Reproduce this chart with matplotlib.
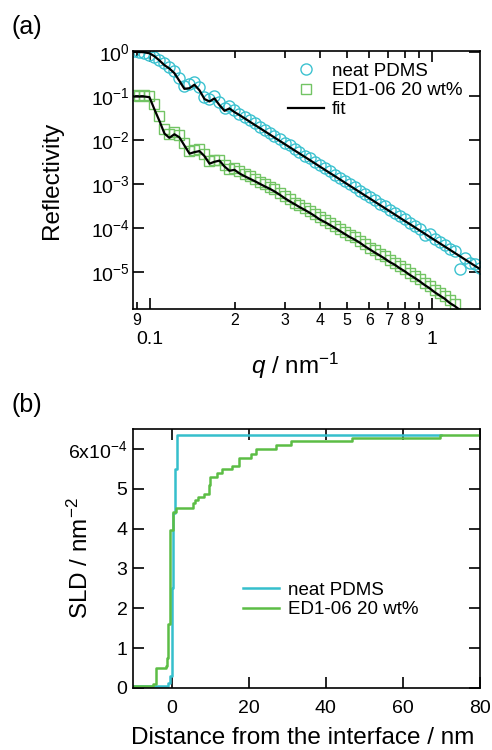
import numpy as np
import matplotlib
matplotlib.use("Agg")
import matplotlib.pyplot as plt
from matplotlib.ticker import FixedLocator, FuncFormatter, LogLocator, NullLocator

plt.rcParams['font.family'] = ['Liberation Sans', 'DejaVu Sans']
plt.rcParams['mathtext.fontset'] = 'custom'
plt.rcParams['mathtext.rm'] = 'Liberation Sans'
plt.rcParams['mathtext.it'] = 'Liberation Sans:italic'

# (a) reflectivity, q in nm^-1
q = [0.0880, 0.0917, 0.0955, 0.0995, 0.1036, 0.1080, 0.1125, 0.1171, 0.1220, 0.1271,
     0.1324, 0.1380, 0.1437, 0.1497, 0.1560, 0.1625, 0.1692, 0.1763, 0.1837, 0.1913,
     0.1993, 0.2076, 0.2163, 0.2253, 0.2347, 0.2445, 0.2547, 0.2653, 0.2763, 0.2879,
     0.2999, 0.3124, 0.3254, 0.3389, 0.3531, 0.3678, 0.3831, 0.3991, 0.4158, 0.4331,
     0.4511, 0.4699, 0.4895, 0.5100, 0.5312, 0.5534, 0.5765, 0.6005, 0.6255, 0.6516,
     0.6788, 0.7071, 0.7366, 0.7673, 0.7993, 0.8326, 0.8673, 0.9035, 0.9412, 0.9804,
     1.0213, 1.0639, 1.1082, 1.1544, 1.2025, 1.2527, 1.3049, 1.3593, 1.4159, 1.4750]

neat_r = [1.05, 1.02, 0.93, 0.85, 0.78, 0.66, 0.55, 0.45, 0.36, 0.25,
          0.17, 0.19, 0.21, 0.16, 0.095, 0.085, 0.10, 0.072, 0.052, 0.058,
          0.047, 0.039, 0.034, 0.028, 0.024, 0.0195, 0.0172, 0.0141, 0.0122, 0.0104,
          0.0085, 0.0075, 0.0061, 0.0054, 0.0044, 0.0038, 0.0032, 0.0027, 0.0023, 0.00195,
          0.00162, 0.00138, 0.00118, 0.00098, 0.00084, 0.00071, 0.00060, 0.00050, 0.00043, 0.00036,
          0.00031, 0.00026, 0.00022, 0.000185, 0.000158, 0.000130, 0.000112, 9.4e-5, 7.0e-5, 7.2e-5,
          5.6e-5, 4.9e-5, 4.1e-5, 3.3e-5, 3.0e-5, 1.2e-5, 2.1e-5, 1.6e-5, 1.5e-5, 1.25e-5]

neat_fit = [1.00, 1.00, 0.98, 0.93, 0.80, 0.64, 0.50, 0.42, 0.33, 0.22,
            0.145, 0.150, 0.18, 0.135, 0.085, 0.075, 0.088, 0.062, 0.046, 0.052,
            0.043, 0.0368, 0.0311, 0.0263, 0.0222, 0.0188, 0.0159, 0.01345, 0.01138, 0.00961,
            0.00813, 0.00688, 0.00582, 0.00493, 0.00417, 0.00353, 0.00298, 0.00252, 0.00213, 0.00180,
            0.00153, 0.00129, 0.00109, 0.000923, 0.000781, 0.000660, 0.000558, 0.000473, 0.000400, 0.000338,
            0.000286, 0.000242, 0.000205, 0.000173, 0.000146, 0.000124, 0.000105, 8.85e-5, 7.48e-5, 6.33e-5,
            5.35e-5, 4.53e-5, 3.83e-5, 3.24e-5, 2.74e-5, 2.32e-5, 1.96e-5, 1.66e-5, 1.40e-5, 1.19e-5]

ed_r = [0.105, 0.100, 0.105, 0.098, 0.065, 0.035, 0.018, 0.0135, 0.0150, 0.0130,
        0.0085, 0.0055, 0.0060, 0.0062, 0.0047, 0.0034, 0.0036, 0.0036, 0.0027, 0.0022,
        0.0023, 0.00195, 0.00165, 0.00150, 0.00128, 0.00112, 0.00099, 0.00086, 0.00078, 0.00063,
        0.00054, 0.00046, 0.00038, 0.00034, 0.00028, 0.00025, 0.00021, 0.000175, 0.000152, 0.000128,
        0.000113, 9.6e-5, 8.1e-5, 7.0e-5, 6.1e-5, 5.1e-5, 4.4e-5, 3.6e-5, 3.1e-5, 2.6e-5,
        2.3e-5, 1.85e-5, 1.65e-5, 1.35e-5, 1.15e-5, 9.6e-6, 8.2e-6, 6.8e-6, 5.7e-6, 4.8e-6,
        3.9e-6, 3.3e-6, 2.8e-6, 2.3e-6, 1.9e-6]

ed_fit = [0.097, 0.097, 0.097, 0.094, 0.050, 0.027, 0.014, 0.0112, 0.0135, 0.0115,
          0.0075, 0.0049, 0.0053, 0.0056, 0.0043, 0.0029, 0.0032, 0.0034, 0.0025, 0.0020,
          0.0021, 1.74e-3, 1.51e-3, 1.33e-3, 1.17e-3, 1.02e-3, 8.9e-4, 7.85e-4, 6.8e-4, 5.75e-4,
          4.8e-4, 4.07e-4, 3.5e-4, 3.0e-4, 2.6e-4, 2.24e-4, 1.9e-4, 1.58e-4, 1.38e-4, 1.19e-4,
          1.02e-4, 8.7e-5, 7.4e-5, 6.3e-5, 5.5e-5, 4.7e-5, 3.9e-5, 3.3e-5, 2.8e-5, 2.4e-5,
          2.04e-5, 1.7e-5, 1.48e-5, 1.23e-5, 1.05e-5, 8.7e-6, 7.4e-6, 6.2e-6, 5.1e-6, 4.3e-6,
          3.5e-6, 2.95e-6, 2.5e-6, 2.0e-6, 1.7e-6, 1.4e-6, 1.17e-6, 1.0e-6]

# (b) SLD profiles, SLD in units of 1e-4 nm^-2
z_neat = [-10, -0.8, -0.4, 0.0, 0.3, 0.8, 1.4, 70]
sld_neat = [0.05, 0.12, 0.3, 2.5, 4.4, 5.5, 6.36, 6.36]
z_ed = [-10, -4.8, -4.0, -1.5, -1.1, -0.8, -0.5, -0.3, 0.3, 1.2, 5.5, 6.1, 6.8, 8.5,
        9.8, 10.0, 11.7, 13.2, 15.6, 17.5, 20.6, 22.0, 27.2, 30.9, 46.8, 69.6, 80]
sld_ed = [0.05, 0.1, 0.51, 0.55, 0.75, 1.6, 2.83, 3.96, 4.41, 4.51, 4.64, 4.72, 4.8, 4.88,
          5.1, 5.3, 5.4, 5.5, 5.57, 5.78, 5.88, 6.0, 6.09, 6.2, 6.28, 6.36, 6.36]

cyan = '#3cc2d0'
green_m = '#72c464'
cyan_l = '#35bfcc'
green_l = '#5cbd45'

fig = plt.figure(figsize=(4.92, 7.5), dpi=100)

# ---- panel (a)
ax1 = fig.add_axes([0.2703, 0.588, 0.7053, 0.344])
ax1.plot(q, neat_r, 'o', ms=8, mfc='none', mec=cyan, mew=1.0, label='neat PDMS')
ax1.plot(q[:len(ed_r)], ed_r, 's', ms=7.5, mfc='none', mec=green_m, mew=1.0, label='ED1-06 20 wt%')
ax1.plot(q, neat_fit, '-', color='black', lw=1.6, label='fit', zorder=5)
ax1.plot(q[:len(ed_fit)], ed_fit, '-', color='black', lw=1.6, zorder=5)
ax1.set_xscale('log')
ax1.set_yscale('log')
ax1.set_xlim(0.087, 1.48)
ax1.set_ylim(1.45e-6, 1.05)

ax1.yaxis.set_major_locator(FixedLocator([1e0, 1e-1, 1e-2, 1e-3, 1e-4, 1e-5]))
ax1.yaxis.set_major_formatter(FuncFormatter(lambda v, _: r'$10^{%d}$' % round(np.log10(v))))
ax1.yaxis.set_minor_locator(NullLocator())
ax1.xaxis.set_major_locator(FixedLocator([0.1, 1.0]))
ax1.xaxis.set_major_formatter(FuncFormatter(lambda v, _: '0.1' if v < 0.5 else '1'))
ax1.xaxis.set_minor_locator(LogLocator(base=10, subs=np.arange(2, 10)))
ax1.xaxis.set_minor_formatter(FuncFormatter(
    lambda v, _: str(int(round(v / 10 ** np.floor(np.log10(v) + 1e-9))))))

ax1.tick_params(which='both', direction='in', top=True, right=True, width=1.2)
ax1.tick_params(which='major', length=8)
ax1.tick_params(which='minor', length=5)
ax1.tick_params(axis='y', which='major', labelsize=14, pad=2)
ax1.tick_params(axis='x', which='major', labelsize=14, pad=16)
ax1.tick_params(axis='x', which='minor', labelsize=11.5, pad=3)
for s in ax1.spines.values():
    s.set_linewidth(1.2)

ax1.legend(loc='upper left', bbox_to_anchor=(0.447, 0.955), frameon=False, fontsize=13.5,
           borderpad=0, borderaxespad=0, handlelength=1.9, handletextpad=0.45,
           labelspacing=0.12)

# ---- panel (b)
ax2 = fig.add_axes([0.2703, 0.0827, 0.7053, 0.3453])
ax2.plot(z_neat, sld_neat, drawstyle='steps-post', color=cyan_l, lw=1.8, label='neat PDMS')
ax2.plot(z_ed, sld_ed, drawstyle='steps-post', color=green_l, lw=1.8, label='ED1-06 20 wt%')
ax2.set_xlim(-10, 80)
ax2.set_ylim(0, 6.5)
ax2.set_xticks([0, 20, 40, 60, 80])
ax2.set_yticks([0, 1, 2, 3, 4, 5, 6])
ax2.set_yticklabels(['0', '1', '2', '3', '4', '5', r'6x10$^{-4}$'])
ax2.tick_params(which='both', direction='in', top=True, right=True, length=8, width=1.2,
                labelsize=14)
ax2.tick_params(axis='x', pad=9)
ax2.tick_params(axis='y', pad=4)
for s in ax2.spines.values():
    s.set_linewidth(1.2)

ax2.legend(loc='upper left', bbox_to_anchor=(0.317, 0.41), frameon=False, fontsize=13.5,
           borderpad=0, borderaxespad=0, handlelength=1.9, handletextpad=0.5,
           labelspacing=0.12)

# labels
fig.text(52 / 492, 1 - 180 / 750, 'Reflectivity', rotation=90, ha='center', va='center',
         fontsize=17.5)
fig.text(295 / 492, 1 - 366 / 750, r'$\it{q}$ / nm$^{-1}$', ha='center', va='center',
         fontsize=17.5)
fig.text(80 / 492, 1 - 558 / 750, r'SLD / nm$^{-2}$', rotation=90, ha='center', va='center',
         fontsize=17.5)
fig.text(303 / 492, 1 - 738 / 750, 'Distance from the interface / nm', ha='center',
         va='center', fontsize=17.5)
fig.text(27 / 492, 1 - 27 / 750, '(a)', ha='center', va='center', fontsize=18)
fig.text(27 / 492, 1 - 405 / 750, '(b)', ha='center', va='center', fontsize=18)

fig.savefig('out.png', dpi=100)
